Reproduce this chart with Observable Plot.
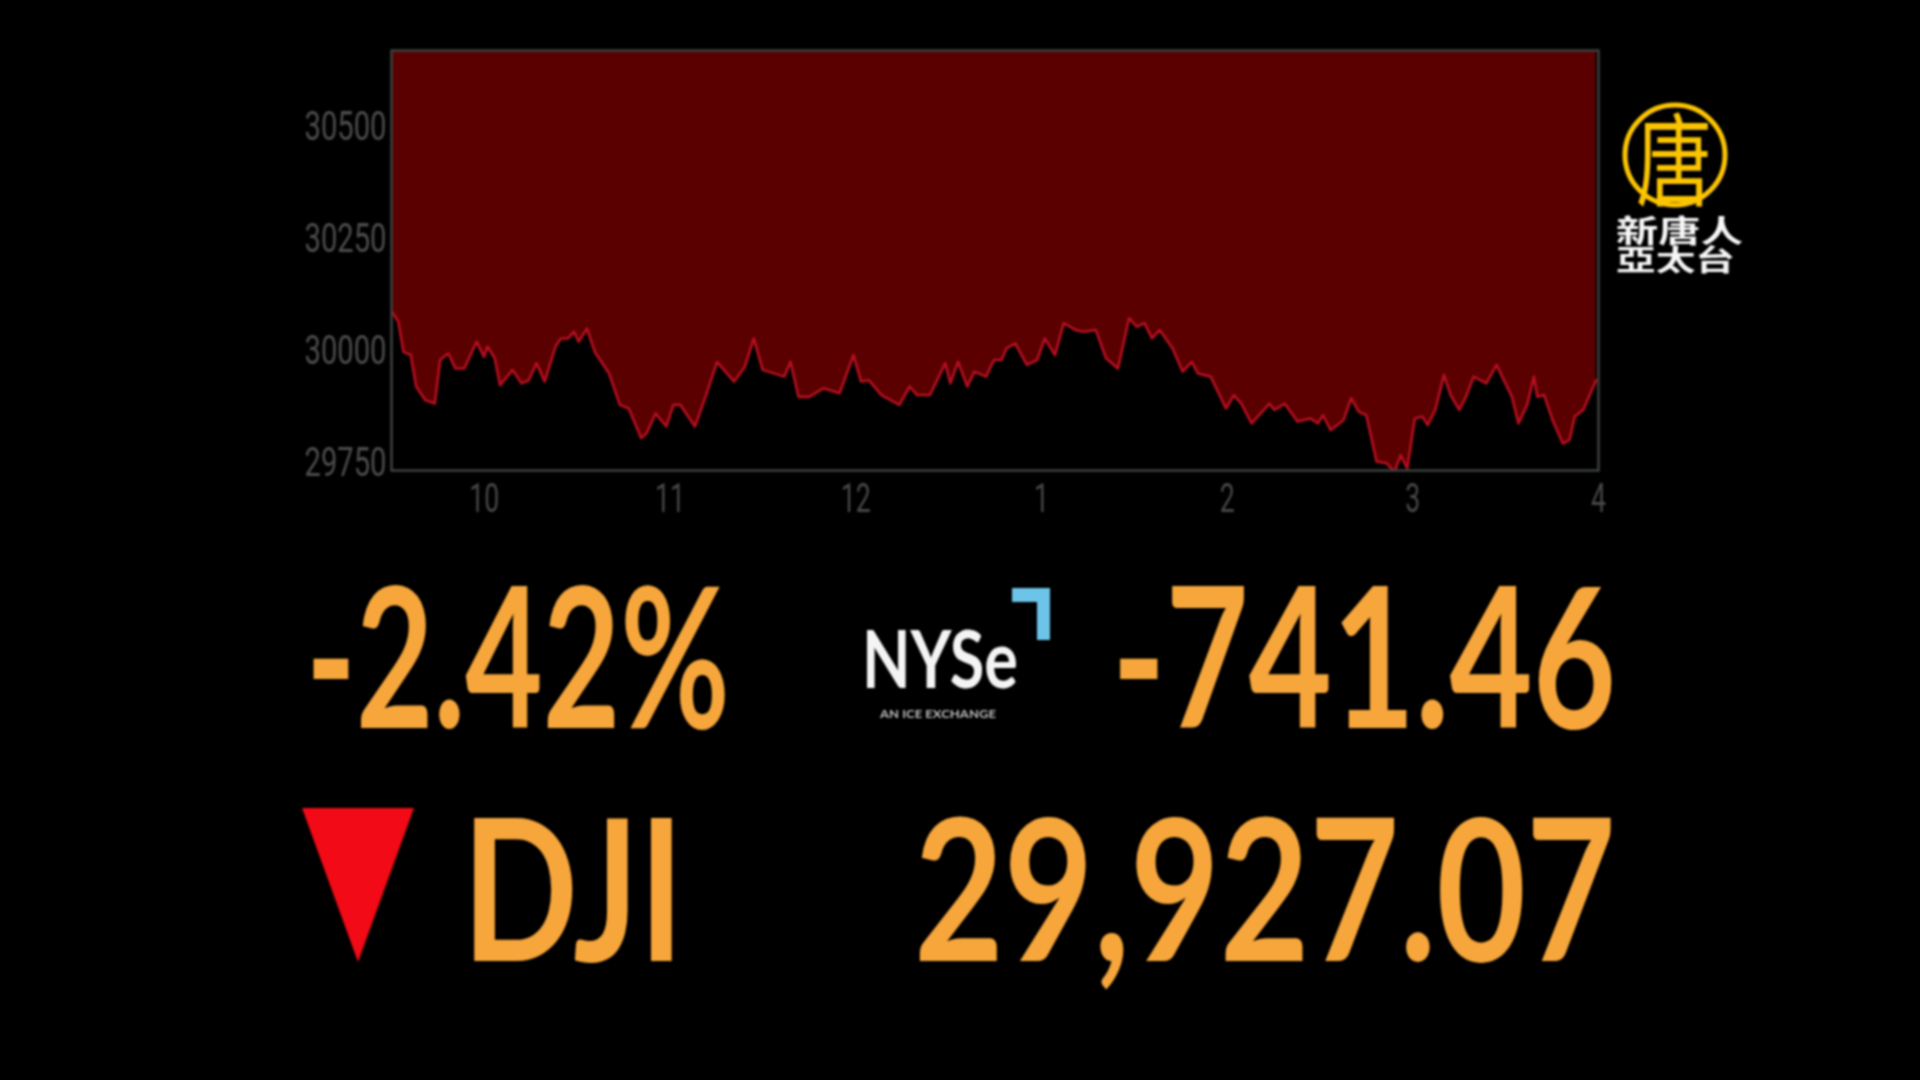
<!DOCTYPE html>
<html lang="zh-Hant">
<head>
<meta charset="utf-8">
<script src="https://cdn.jsdelivr.net/npm/d3@7"></script>
<script src="https://cdn.jsdelivr.net/npm/@observablehq/plot@0.6"></script>
<style>
  html, body { margin: 0; padding: 0; background: #000; overflow: hidden; }
  #stage { position: relative; width: 1920px; height: 1080px; background: #000; filter: blur(1px); overflow: hidden; }
  #stage > svg { position: absolute; left: 0; top: 0; display: block; }
</style>
</head>
<body>
<div id="stage"></div>
<script>
const hours = [
 9.5,9.508,9.537,9.565,9.604,9.633,9.681,9.733,9.762,9.806,9.844,9.892,9.959,9.998,10.017,10.056,10.085,10.152,10.2,10.239,10.281,10.325,
 10.383,10.412,10.451,10.483,10.508,10.553,10.595,10.672,10.73,10.778,10.845,10.874,10.922,10.98,11.018,11.056,11.134,11.191,11.253,11.345,
 11.403,11.451,11.499,11.615,11.649,11.692,11.749,11.826,11.913,11.988,12.029,12.07,12.139,12.235,12.29,12.331,12.4,12.482,12.51,12.551,
 12.601,12.639,12.702,12.744,12.785,12.812,12.859,12.922,12.977,13.018,13.073,13.12,13.183,13.225,13.293,13.348,13.412,13.472,13.513,13.555,
 13.596,13.637,13.706,13.761,13.81,13.843,13.912,13.994,14.036,14.077,14.132,14.228,14.255,14.31,14.379,14.448,14.489,14.517,14.558,14.627,
 14.668,14.709,14.75,14.805,14.86,14.901,14.935,14.97,15.011,15.052,15.08,15.121,15.168,15.204,15.25,15.286,15.328,15.396,15.451,15.534,
 15.569,15.616,15.652,15.671,15.707,15.753,15.808,15.844,15.872,15.918,15.987
];
const values = [
 30090,30084,30065,29998,29991,29921,29891,29883,29980,29995,29961,29961,30021,29987,30010,29984,29924,29958,29928,29935,29973,29932,
 30010,30028,30028,30043,30021,30050,29998,29950,29880,29872,29806,29817,29861,29832,29880,29880,29832,29898,29976,29932,
 29965,30028,29958,29943,29976,29898,29898,29917,29906,29991,29932,29935,29902,29880,29921,29902,29902,29973,29928,29976,
 29921,29954,29943,29980,29980,30006,30017,29969,29980,30028,29991,30062,30047,30043,30047,29984,29961,30073,30054,30062,
 30028,30047,30006,29954,29976,29950,29943,29872,29902,29883,29839,29883,29869,29883,29843,29850,29839,29857,29824,29846,
 29895,29865,29857,29754,29750,29731,29768,29739,29850,29854,29835,29869,29947,29902,29869,29898,29943,29928,29969,29898,
 29839,29880,29943,29898,29902,29846,29794,29802,29854,29869,29935
];
const xTicks = [10, 11, 12, 13, 14, 15, 16];
const yTicks = [29750, 30000, 30250, 30500];
const yDomain = [29734, 30669];
const xDomain = [9.5, 16];
const pctChange = "-2.42%";
const ptChange = "-741.46";
const indexName = "DJI";
const indexValue = "29,927.07";
const logoTop = "唐";
const logoLine1 = "新唐人";
const logoLine2 = "亞太台";
const series = hours.map((h, i) => ({h, v: values[i]}));
const tickFont = "Roboto, sans-serif";

const chart = Plot.plot({
  width: 1920, height: 1080,
  marginLeft: 391, marginRight: 322, marginTop: 50, marginBottom: 610,
  style: {background: "transparent", overflow: "visible"},
  x: {domain: xDomain},
  y: {domain: yDomain},
  marks: [
    Plot.areaY(series, {x: "h", y1: "v", y2: () => yDomain[1], fill: "#5a0000", curve: "linear", clip: true}),
    Plot.lineY(series, {x: "h", y: "v", stroke: "#b80f20", strokeWidth: 2.6, curve: "linear", clip: true}),
    Plot.frame({stroke: "#3d423f", strokeWidth: 2.5}),
    Plot.axisX({ticks: xTicks, tickSize: 0, tickPadding: 12, label: null, fontSize: 41, fill: "#474747",
      fontFamily: tickFont, tickFormat: d => String(d > 12 ? d - 12 : d)}),
    Plot.axisY({ticks: yTicks, tickSize: 0, tickPadding: 5, label: null, fontSize: 41, fill: "#4c4c4c",
      fontFamily: tickFont, tickFormat: d => String(d)})
  ]
});
document.getElementById("stage").appendChild(chart);

// narrow the tick labels the way the broadcast graphic does
d3.select(chart).selectAll('g[aria-label="y-axis tick label"] text')
  .attr("textLength", 82).attr("lengthAdjust", "spacingAndGlyphs");
d3.select(chart).selectAll('g[aria-label="x-axis tick label"] text').each(function() {
  const n = this.textContent.length;
  d3.select(this).attr("textLength", n * 15).attr("lengthAdjust", "spacingAndGlyphs");
});

// overlay: readout, NYSE mark and station bug
const ov = d3.select("#stage").append("svg").attr("width", 1920).attr("height", 1080);
function label(txt, x, y, w, size, fill, opts = {}) {
  const t = ov.append("text").text(txt)
    .attr("font-size", size).attr("fill", fill)
    .attr("font-family", opts.family || "Lato, sans-serif")
    .attr("font-weight", opts.weight || 700);
  const natural = t.node().getComputedTextLength();
  t.attr("transform", `translate(${x},${y}) scale(${w / natural},1)`);
  return t;
}
const orange = "#f6a63b";
const cjk = '"Noto Sans CJK TC", sans-serif';
label(pctChange, 306, 728, 424, 196, orange);
label(ptChange, 1112, 728, 504, 196, orange);
label(indexName, 462, 961, 222, 198, orange);
label(indexValue, 914, 961, 702, 198, orange);
ov.append("polygon").attr("points", "302,808 414,808 358,962").attr("fill", "#f20a16");

// NYSE
label("NYSe", 862, 688, 156, 80, "#f4f4f4", {weight: 700});
label("AN ICE EXCHANGE", 880, 718, 116, 12, "#bdbdbd", {weight: 700});
ov.append("polygon").attr("points", "1012,588 1050,588 1050,640 1037,640 1037,602 1012,602").attr("fill", "#6cc4e8");

// logo
ov.append("circle").attr("cx", 1675).attr("cy", 155).attr("r", 50).attr("fill", "none").attr("stroke", "#fbc400").attr("stroke-width", 5);
label(logoTop, 1636, 198, 76, 100, "#fbc400", {family: cjk, weight: 400});
label(logoLine1, 1616, 242, 127, 31, "#f6f6f6", {family: cjk, weight: 700});
label(logoLine2, 1616, 271, 119, 29, "#f6f6f6", {family: cjk, weight: 700});
</script>
</body>
</html>
